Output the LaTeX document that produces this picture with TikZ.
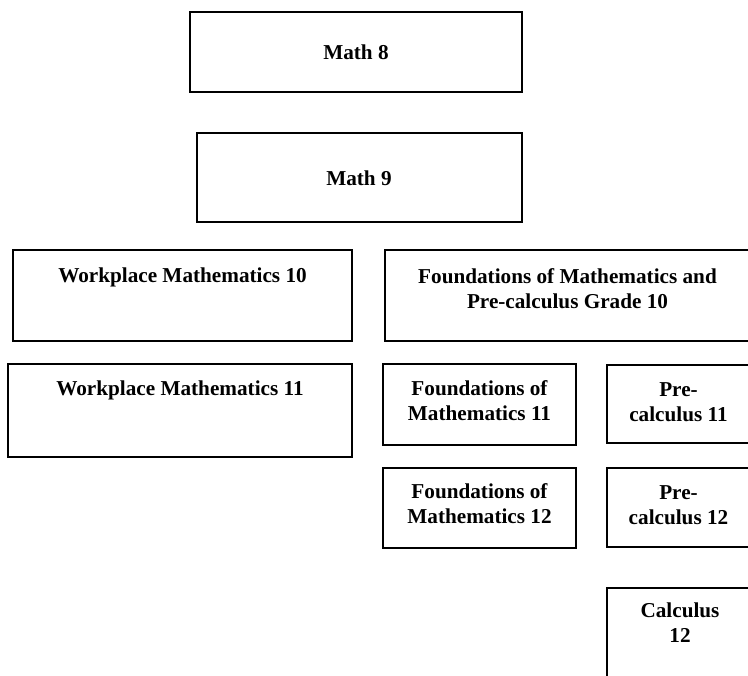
\documentclass[tikz,border=0pt]{standalone}
\usepackage{fontspec}
\setmainfont{Liberation Serif}
\usetikzlibrary{fit}

\tikzset{every picture/.style={line width=0.75pt}}
\tikzset{
  coursebox/.style={draw, line width=1.5pt, inner sep=0pt},
  coursetext/.style={anchor=base, inner sep=0pt, align=center,
    font=\fontsize{15.9}{18.4}\selectfont\bfseries}
}

\begin{document}
\begin{tikzpicture}[x=0.75pt,y=0.75pt,yscale=-1,xscale=1]
    \useasboundingbox (0,0) rectangle (748,675);
    \clip (0,0) rectangle (748,675);

    %Shape: Rectangles
    \node [coursebox, fit={(190,12) (522,92)}] (math8) {};
    \node [coursebox, fit={(197,133) (522,222)}] (math9) {};
    \node [coursebox, fit={(13,250) (352,341)}] (work10) {};
    \node [coursebox, fit={(385,250) (750,341)}] (found10) {};
    \node [coursebox, fit={(8,364) (352,457)}] (work11) {};
    \node [coursebox, fit={(383,364) (576,445)}] (found11) {};
    \node [coursebox, fit={(607,365) (750,443)}] (pre11) {};
    \node [coursebox, fit={(383,468) (576,548)}] (found12) {};
    \node [coursebox, fit={(607,468) (750,547)}] (pre12) {};
    \node [coursebox, fit={(607,588) (750,700)}] (calc12) {};

    % Text Nodes (base = last line)
    \node [coursetext] (math8txt) at (356,59) {Math 8};
    \node [coursetext] (math9txt) at (359,185) {Math 9};
    \node [coursetext] (work10txt) at (182.5,282) {Workplace Mathematics 10};
    \node [coursetext] (found10txt) at (567.5,308) {Foundations of Mathematics and\\Pre-calculus Grade 10};
    \node [coursetext] (work11txt) at (180,395) {Workplace Mathematics 11};
    \node [coursetext] (found11txt) at (479.5,420) {Foundations of\\Mathematics 11};
    \node [coursetext] (pre11txt) at (678.5,421) {Pre-\\calculus 11};
    \node [coursetext] (found12txt) at (479.5,523) {Foundations of\\Mathematics 12};
    \node [coursetext] (pre12txt) at (678.5,524) {Pre-\\calculus 12};
    \node [coursetext] (calc12txt) at (680,642) {Calculus\\12};

\end{tikzpicture}
\end{document}
